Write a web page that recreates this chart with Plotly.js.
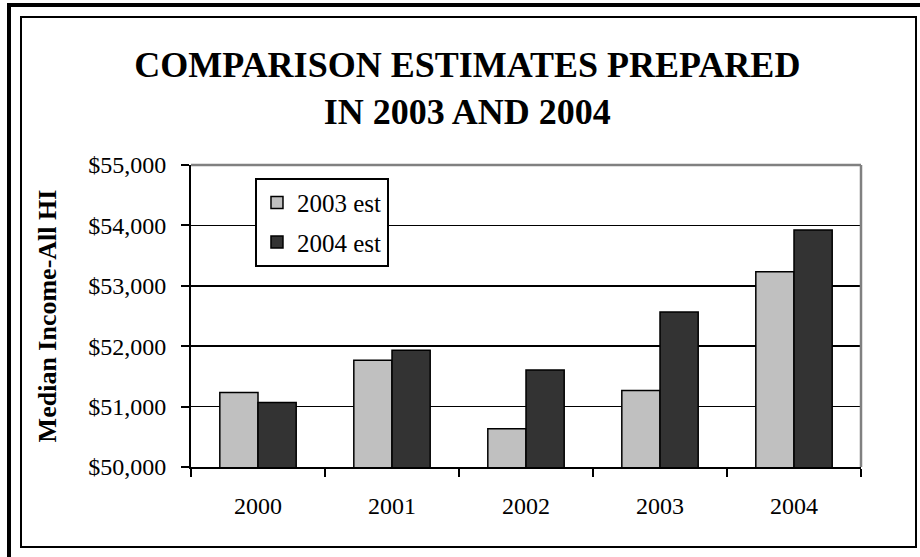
<!DOCTYPE html>
<html>
<head>
<meta charset="utf-8">
<script src="https://cdn.plot.ly/plotly-3.0.1.min.js"></script>
<style>
  html, body { margin: 0; padding: 0; background: #ffffff; }
  #wrap { position: relative; width: 920px; height: 557px; overflow: hidden; }
  #chart { position: absolute; left: 0; top: 0; width: 920px; height: 557px; }
  .outer { position: absolute; left: 7px; top: 3px; width: 913px; height: 554px;
           border-left: 4px solid #000; border-top: 4px solid #000; box-sizing: border-box; pointer-events: none; }
  .inner { position: absolute; left: 20px; top: 16px; width: 897px; height: 532px;
           border: 2px solid #000; box-sizing: border-box; pointer-events: none; }
</style>
</head>
<body>
<div id="wrap">
  <div id="chart"></div>
  <div class="outer"></div>
  <div class="inner"></div>
</div>
<script>
const years = ['2000', '2001', '2002', '2003', '2004'];
const est2003 = [51233, 51767, 50633, 51267, 53231];
const est2004 = [51067, 51933, 51605, 52567, 53924];
const seriesNames = ['2003 est', '2004 est'];
const yTickVals = [50000, 51000, 52000, 53000, 54000, 55000];

const serif = 'Liberation Serif, Times New Roman, serif';

const traces = [
  {
    type: 'bar', x: years, y: est2003, name: seriesNames[0], legendgroup: 'a',
    marker: { color: '#c0c0c0', line: { color: '#000000', width: 1.5 } }
  },
  {
    type: 'bar', x: years, y: est2004, name: seriesNames[1], legendgroup: 'b',
    marker: { color: '#333333', line: { color: '#000000', width: 1.5 } }
  }
];

const layout = {
  width: 920, height: 557,
  margin: { l: 191, r: 59, t: 165, b: 90 },
  paper_bgcolor: 'rgba(0,0,0,0)',
  plot_bgcolor: '#ffffff',
  font: { family: serif, color: '#000000', size: 24 },
  barmode: 'group',
  bargap: 0.43,
  bargroupgap: 0,
  title: {
    text: '<b>COMPARISON ESTIMATES PREPARED<br>IN 2003 AND 2004</b>',
    font: { family: serif, size: 36, color: '#000000' },
    x: 0.508, xanchor: 'center', xref: 'container',
    y: 1 - 77 / 557, yanchor: 'top', yref: 'container'
  },
  showlegend: true,
  legend: {
    x: 0.0955, y: 0.958, xanchor: 'left', yanchor: 'top',
    bgcolor: '#ffffff', bordercolor: '#000000', borderwidth: 2,
    font: { family: serif, size: 25, color: '#000000' },
    traceorder: 'grouped', tracegroupgap: 4,
    itemwidth: 30
  },
  xaxis: {
    type: 'category',
    showline: true, linecolor: '#000000', linewidth: 2,
    ticks: 'outside', tickson: 'boundaries', ticklen: 8, tickwidth: 2, tickcolor: '#000000',
    showgrid: false,
    tickfont: { family: serif, size: 24, color: '#000000' },
    ticklabelstandoff: 16,
    fixedrange: true
  },
  yaxis: {
    range: [50000, 55000],
    tickvals: yTickVals,
    tickformat: '$,.0f',
    showline: true, linecolor: '#000000', linewidth: 2,
    ticks: 'outside', ticklen: 8, tickwidth: 2, tickcolor: '#000000',
    showgrid: true, gridcolor: '#000000', gridwidth: 1.5,
    zeroline: false,
    tickfont: { family: serif, size: 24, color: '#000000' },
    ticklabelstandoff: 10,
    title: {
      text: '<b>Median Income-All HI</b>',
      font: { family: serif, size: 26, color: '#000000' },
      standoff: 24
    },
    fixedrange: true
  },
  shapes: [
    { type: 'line', xref: 'paper', yref: 'paper', x0: 0, x1: 1, y0: 1, y1: 1,
      line: { color: '#808080', width: 2.5 }, layer: 'above' },
    { type: 'line', xref: 'paper', yref: 'paper', x0: 1, x1: 1, y0: 0, y1: 1,
      line: { color: '#808080', width: 2.5 }, layer: 'above' }
  ]
};

Plotly.newPlot('chart', traces, layout, { staticPlot: true, displayModeBar: false });
</script>
</body>
</html>
